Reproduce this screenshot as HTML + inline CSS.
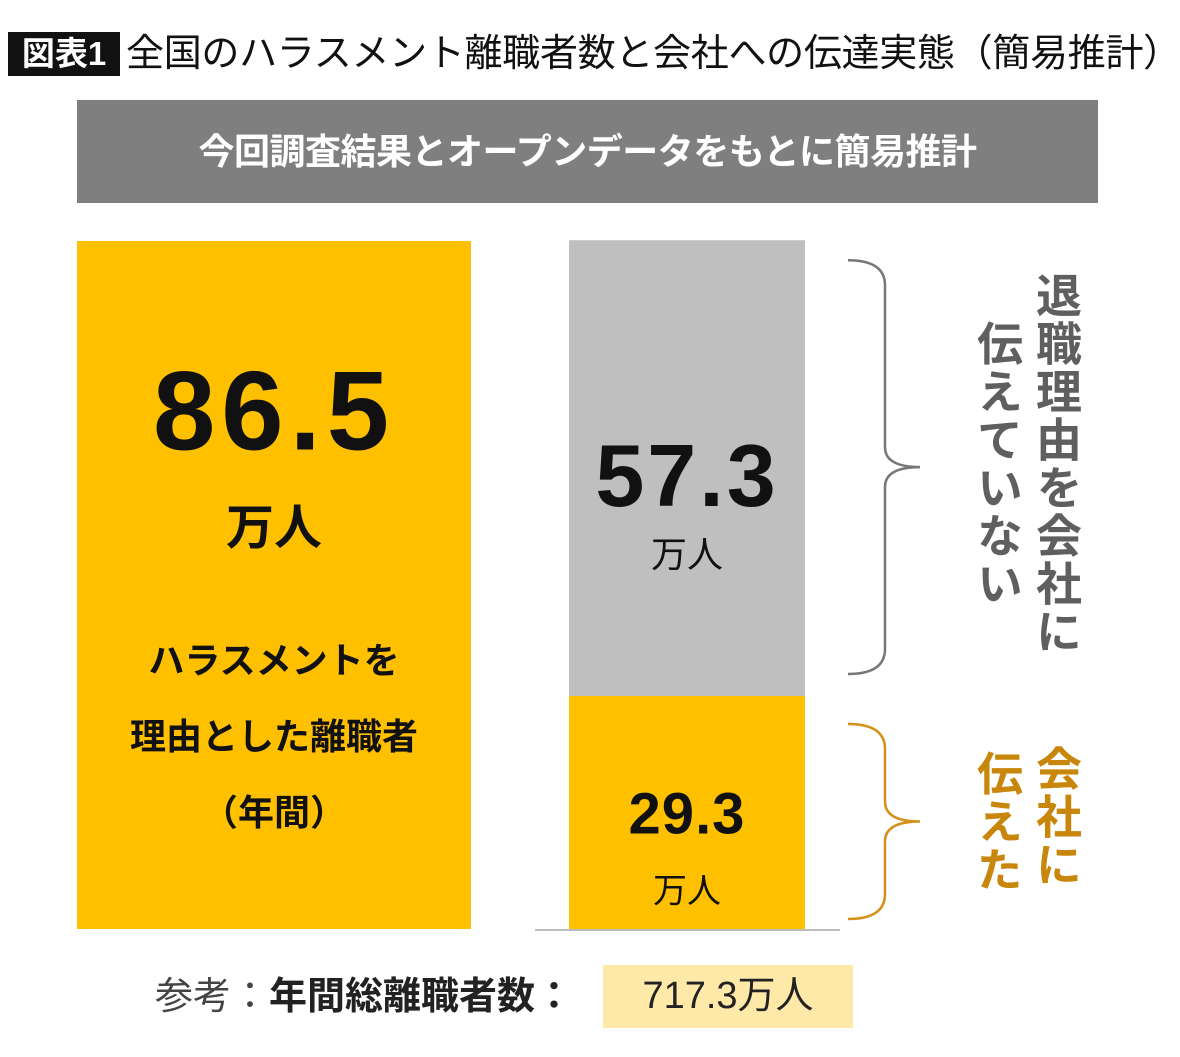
<!DOCTYPE html>
<html><head><meta charset="utf-8">
<style>
body{margin:0;width:1180px;height:1057px;background:#fff;position:relative;overflow:hidden;font-family:"Liberation Sans","Noto Sans CJK JP",sans-serif}
.a{position:absolute}
.c{position:absolute;transform:translate(-50%,-50%);white-space:nowrap;text-align:center}
.v{position:absolute;writing-mode:vertical-rl;font-weight:bold;font-size:46px;letter-spacing:2px;line-height:1}
</style></head><body>
<div class="a" style="left:8px;top:32px;width:112px;height:44px;background:#111;color:#fff;font-size:33px;font-weight:bold;line-height:44px;text-align:center">図表1</div>
<div class="a" style="left:126px;top:27px;font-size:38px;line-height:54px;color:#111;white-space:nowrap;letter-spacing:-0.3px">全国のハラスメント離職者数と会社への伝達実態（簡易推計）</div>
<div class="a" style="left:77px;top:100px;width:1021px;height:103px;background:#7f7f7f;color:#fff;font-size:36px;font-weight:bold;line-height:103px;text-align:center;letter-spacing:-0.5px">今回調査結果とオープンデータをもとに簡易推計</div>
<svg id="chart" class="a" style="left:0;top:0" width="1180" height="1057"></svg>
<div id="labels"></div>
<div class="c" style="left:274px;top:737px;font-size:36px;font-weight:bold;line-height:76px;color:#111">ハラスメントを<br>理由とした離職者<br>（年間）</div>
<div class="v" style="left:1033px;top:272px;color:#5f5f5f">退職理由を会社に</div>
<div class="v" style="left:974px;top:320px;color:#5f5f5f">伝えていない</div>
<div class="v" style="left:1033px;top:745px;color:#c8860a">会社に</div>
<div class="v" style="left:974px;top:750px;color:#c8860a">伝えた</div>
<div class="a" style="left:155px;top:972px;font-size:38px;line-height:50px;color:#444;white-space:nowrap">参考：<b style="color:#222">年間総離職者数：</b></div>
<div class="a" style="left:603px;top:965px;width:250px;height:63px;background:#ffe9a8;font-size:38px;line-height:63px;text-align:center;color:#222">717.3万人</div>
<script>
const categories=["total","breakdown"];
const totalValue=[86.5];
const notToldValue=[57.3];
const toldValue=[29.3];
const labelUnit="万人";
const NS="http://www.w3.org/2000/svg";
const svg=document.getElementById("chart");
const baseY=929, topY=241;
const y=v=>baseY-v*(baseY-topY)/86.5;
function rect(x,w,v0,v1,fill,name){
  const r=document.createElementNS(NS,"rect");
  r.setAttribute("x",x);r.setAttribute("width",w);
  r.setAttribute("y",y(v1));r.setAttribute("height",y(v0)-y(v1));
  r.setAttribute("fill",fill);
  
  
  svg.appendChild(r);
}
rect(77,394,0,totalValue[0],"#ffc000","bar-total");
rect(569,236,0,toldValue[0],"#ffc000","bar-told");
rect(569,236,toldValue[0],toldValue[0]+notToldValue[0],"#bfbfbf","bar-not-told");
const base=document.createElementNS(NS,"line");
base.setAttribute("x1",535);base.setAttribute("x2",840);base.setAttribute("y1",930);base.setAttribute("y2",930);
base.setAttribute("stroke","#bbb");base.setAttribute("stroke-width",2);


svg.appendChild(base);
function brace(t,b,col,name){
  const m=(t+b)/2;
  const p=document.createElementNS(NS,"path");
  p.setAttribute("d",`M848 ${t} Q885 ${t} 885 ${t+25} L885 ${m-20} Q885 ${m} 920 ${m} Q885 ${m} 885 ${m+20} L885 ${b-25} Q885 ${b} 848 ${b}`);
  p.setAttribute("fill","none");p.setAttribute("stroke",col);p.setAttribute("stroke-width",2.5);
  
  
  svg.appendChild(p);
}
brace(y(toldValue[0]+notToldValue[0])+20,y(toldValue[0])-22,"#777","brace-not-told");
brace(y(toldValue[0])+28,baseY-10,"#d4901a","brace-told");
const L=document.getElementById("labels");
function lab(x,yy,txt,size,w,name,ls){
  const d=document.createElement("div");
  d.className="c";d.style.left=x+"px";d.style.top=yy+"px";
  d.style.fontSize=size+"px";d.style.fontWeight=w;d.style.color="#111";
  if(ls)d.style.letterSpacing=ls+"px";
  d.textContent=txt;
  
  
  L.appendChild(d);
}
lab(274,y(totalValue[0])+170,totalValue[0].toFixed(1),112,"bold","total-value",6);
lab(274,y(totalValue[0])+282,labelUnit,48,"bold","total-unit");
const gTop=y(toldValue[0]+notToldValue[0]);
lab(687,gTop+236,notToldValue[0].toFixed(1),88,"bold","not-told-value",3);
lab(687,gTop+312,labelUnit,36,"normal","not-told-unit");
const yTop=y(toldValue[0]);
lab(687,yTop+118,toldValue[0].toFixed(1),58,"bold","told-value",1);
lab(687,yTop+192,labelUnit,34,"normal","told-unit");
</script>
</body></html>
